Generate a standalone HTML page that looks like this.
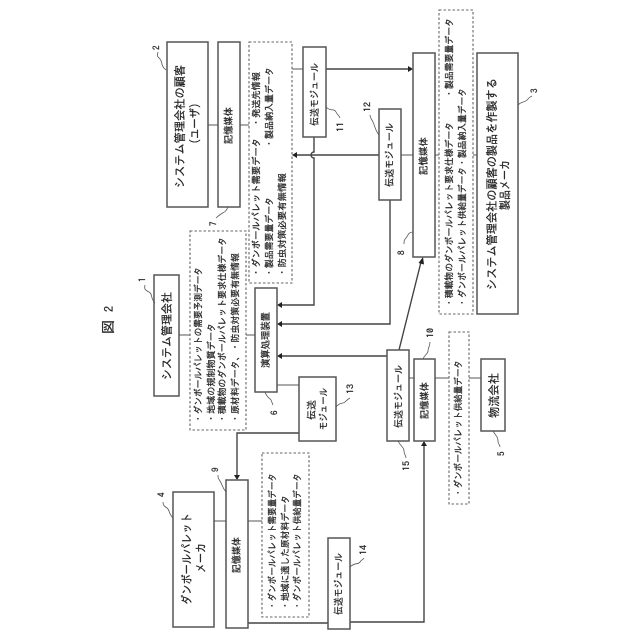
<!DOCTYPE html>
<html><head><meta charset="utf-8"><style>
html,body{margin:0;padding:0;background:#fff}
svg{display:block}
text{font-family:"IPAGothic","Liberation Sans","Noto Sans CJK JP",sans-serif;fill:#1c1c1c;stroke:#333;stroke-width:.28;dominant-baseline:central}
.b{fill:#fff;stroke:#555;stroke-width:1.5}
.d{fill:#fff;stroke:#666;stroke-width:1.1;stroke-dasharray:2.5 2}
.l{fill:none;stroke:#444;stroke-width:1.4}
.g{fill:none;stroke:#777;stroke-width:1.3}
.s{fill:none;stroke:#555;stroke-width:.8}
.a{fill:#222}
</style></head><body>
<svg width="640" height="640" viewBox="0 0 640 640" xmlns="http://www.w3.org/2000/svg">
<!-- connectors -->
<path class="g" d="M208 125H218M240 125H249M179 335H190M246 335H255M401 155H413M435 155H439M473 155H477M277 385H299M214 521H226M248 521H262M409 378H414M435 378H449M469 378H481M292 69H303"/>
<path class="l" d="M326 69H409M314 137V152A3 3 0 0 0 314 158V305H281M379 155H296M390 200V324H281M387 356H281M399 350L421 262M299 433H237V475M248 623H328M350 622H424V446"/>
<path class="a" d="M413 69l-5-3v6zM292 155l5-3v6zM277 305l5-3v6zM277 324l5-3v6zM277 356l5-3v6zM423 257l-4.500 6 5.500 1.500zM237 480l-3-5h6zM424 441l-3 5h6z"/>
<!-- boxes -->
<rect class="b" x="167" y="42" width="41" height="165"/>
<rect class="b" x="218" y="42" width="22" height="165"/>
<rect class="d" x="249" y="42" width="43" height="241"/>
<rect class="b" x="303" y="47" width="23" height="90"/>
<rect class="b" x="379" y="109" width="22" height="91"/>
<rect class="b" x="413" y="53" width="22" height="204"/>
<rect class="d" x="439" y="10" width="34" height="304"/>
<rect class="b" x="477" y="53" width="41" height="261"/>
<rect class="b" x="154" y="275" width="25" height="121"/>
<rect class="d" x="190" y="231" width="56" height="199"/>
<rect class="b" x="255" y="288" width="22" height="104"/>
<rect class="b" x="299" y="377" width="37" height="64"/>
<rect class="b" x="387" y="350" width="22" height="91"/>
<rect class="b" x="414" y="359" width="21" height="82"/>
<rect class="d" x="449" y="332" width="20" height="172"/>
<rect class="b" x="481" y="359" width="24" height="72"/>
<rect class="b" x="173" y="492" width="41" height="135"/>
<rect class="b" x="226" y="480" width="22" height="148"/>
<rect class="d" x="262" y="453" width="47" height="164"/>
<rect class="b" x="328" y="538" width="22" height="91"/>
<!-- leader squiggles -->
<path class="s" d="M155 303C150 298 153 294 149 292S144 289 145 285M166 70C160 65 163 62 160 59S157 56 158 52M518 105C522 101 524 103 527 100S530 97 532 96M173 518C168 513 170 510 167 508S163 505 163 502M493 431C496 436 498 437 498 441S500 444 500 447M265 392C267 398 270 398 271 400S272 403 273 405M228 207C226 212 224 212 221 214S218 216 216 218M413 232C408 232 408 236 406 238S404 241 404 244M226 492C222 487 222 484 220 481S218 478 218 475M423 359C425 354 428 354 428 351S430 346 430 342M326 107C331 112 334 108 336 112S339 115 340 118M379 135C375 130 375 126 373 122S370 118 370 115M336 407C340 402 343 404 345 402S348 399 350 398M350 567C355 562 358 565 360 562S363 560 364 558M398 441C401 447 404 447 404 451S406 455 406 458"/>
<!-- title -->
<text transform="translate(109,312) rotate(-90)" font-size="12">2</text>
<text transform="translate(108,334) rotate(-90)" font-size="14">図</text>
<!-- numbers -->
<g font-size="9">
<text transform="translate(143,282) rotate(-90)">1</text>
<text transform="translate(157,50) rotate(-90)">2</text>
<text transform="translate(535,93) rotate(-90)">3</text>
<text transform="translate(162,497) rotate(-90)">4</text>
<text transform="translate(502,456) rotate(-90)">5</text>
<text transform="translate(275,415) rotate(-90)">6</text>
<text transform="translate(214,226) rotate(-90)">7</text>
<text transform="translate(402,255) rotate(-90)">8</text>
<text transform="translate(216,472) rotate(-90)">9</text>
<text transform="translate(431,338) rotate(-90)" textLength="10" lengthAdjust="spacingAndGlyphs">10</text>
<text transform="translate(341,132) rotate(-90)" textLength="10" lengthAdjust="spacingAndGlyphs">11</text>
<text transform="translate(368,112) rotate(-90)" textLength="10" lengthAdjust="spacingAndGlyphs">12</text>
<text transform="translate(351,394) rotate(-90)" textLength="10" lengthAdjust="spacingAndGlyphs">13</text>
<text transform="translate(364,555) rotate(-90)" textLength="10" lengthAdjust="spacingAndGlyphs">14</text>
<text transform="translate(407,471) rotate(-90)" textLength="10" lengthAdjust="spacingAndGlyphs">15</text>
</g>
<!-- large labels -->
<g font-size="12">
<text transform="translate(180,188) rotate(-90)" textLength="123" lengthAdjust="spacingAndGlyphs">システム管理会社の顧客</text>
<text transform="translate(195,144) rotate(-90)" textLength="41" lengthAdjust="spacingAndGlyphs">(ユーザ)</text>
<text transform="translate(167,380) rotate(-90)" textLength="88" lengthAdjust="spacingAndGlyphs">システム管理会社</text>
<text transform="translate(492,290) rotate(-90)" textLength="212" lengthAdjust="spacingAndGlyphs">システム管理会社の顧客の製品を作製する</text>
<text transform="translate(505,210) rotate(-90)" textLength="50" lengthAdjust="spacingAndGlyphs">製品メーカ</text>
<text transform="translate(187,605) rotate(-90)" textLength="92" lengthAdjust="spacingAndGlyphs">ダンボールパレット</text>
<text transform="translate(201,573) rotate(-90)" textLength="30" lengthAdjust="spacingAndGlyphs">メーカ</text>
<text transform="translate(494,418) rotate(-90)" textLength="45" lengthAdjust="spacingAndGlyphs">物流会社</text>
</g>
<g font-size="10">
<text transform="translate(229,144) rotate(-90)" textLength="37" lengthAdjust="spacingAndGlyphs">記憶媒体</text>
<text transform="translate(424,175) rotate(-90)" textLength="38" lengthAdjust="spacingAndGlyphs">記憶媒体</text>
<text transform="translate(425,419) rotate(-90)" textLength="37" lengthAdjust="spacingAndGlyphs">記憶媒体</text>
<text transform="translate(237,573) rotate(-90)" textLength="36" lengthAdjust="spacingAndGlyphs">記憶媒体</text>
<text transform="translate(266,368) rotate(-90)" textLength="56" lengthAdjust="spacingAndGlyphs">演算処理装置</text>
<text transform="translate(315,126) rotate(-90)" textLength="63" lengthAdjust="spacingAndGlyphs">伝送モジュール</text>
<text transform="translate(390,187) rotate(-90)" textLength="64" lengthAdjust="spacingAndGlyphs">伝送モジュール</text>
<text transform="translate(399,428) rotate(-90)" textLength="63" lengthAdjust="spacingAndGlyphs">伝送モジュール</text>
<text transform="translate(339,615) rotate(-90)" textLength="62" lengthAdjust="spacingAndGlyphs">伝送モジュール</text>
<text transform="translate(312,420) rotate(-90)" textLength="20" lengthAdjust="spacingAndGlyphs">伝送</text>
<text transform="translate(324,430) rotate(-90)" textLength="42" lengthAdjust="spacingAndGlyphs">モジュール</text>
</g>
<!-- dashed-box text -->
<g font-size="9.500">
<text transform="translate(257,277) rotate(-90)" textLength="139" lengthAdjust="spacingAndGlyphs">・ダンボールパレット需要データ</text>
<text transform="translate(257,127) rotate(-90)" textLength="55" lengthAdjust="spacingAndGlyphs">・発送先情報</text>
<text transform="translate(270,277) rotate(-90)" textLength="80" lengthAdjust="spacingAndGlyphs">・製品需要量データ</text>
<text transform="translate(270,148) rotate(-90)" textLength="81" lengthAdjust="spacingAndGlyphs">・製品納入量データ</text>
<text transform="translate(283,277) rotate(-90)" textLength="104" lengthAdjust="spacingAndGlyphs">・防虫対策必要有無情報</text>
<text transform="translate(450,307) rotate(-90)" textLength="185" lengthAdjust="spacingAndGlyphs">・積載物のダンボールパレット要求仕様データ</text>
<text transform="translate(450,98) rotate(-90)" textLength="80" lengthAdjust="spacingAndGlyphs">・製品需要量データ</text>
<text transform="translate(463,307) rotate(-90)" textLength="219" lengthAdjust="spacingAndGlyphs">・ダンボールパレット供給量データ・製品納入量データ</text>
<text transform="translate(199,423) rotate(-90)" textLength="156" lengthAdjust="spacingAndGlyphs">・ダンボールパレットの需要予測データ</text>
<text transform="translate(212,423) rotate(-90)" textLength="100" lengthAdjust="spacingAndGlyphs">・地域の規制物質データ</text>
<text transform="translate(223,423) rotate(-90)" textLength="186" lengthAdjust="spacingAndGlyphs">・積載物のダンボールパレット要求仕様データ</text>
<text transform="translate(236,423) rotate(-90)" textLength="170" lengthAdjust="spacingAndGlyphs">・原材料データ、・防虫対策必要有無情報</text>
<text transform="translate(459,497) rotate(-90)" textLength="137" lengthAdjust="spacingAndGlyphs">・ダンボールパレット供給量データ</text>
<text transform="translate(273,610) rotate(-90)" textLength="137" lengthAdjust="spacingAndGlyphs">・ダンボールパレット需要量データ</text>
<text transform="translate(286,610) rotate(-90)" textLength="115" lengthAdjust="spacingAndGlyphs">・地域に適した原材料データ</text>
<text transform="translate(298,610) rotate(-90)" textLength="137" lengthAdjust="spacingAndGlyphs">・ダンボールパレット供給量データ</text>
</g>
</svg>
</body></html>
